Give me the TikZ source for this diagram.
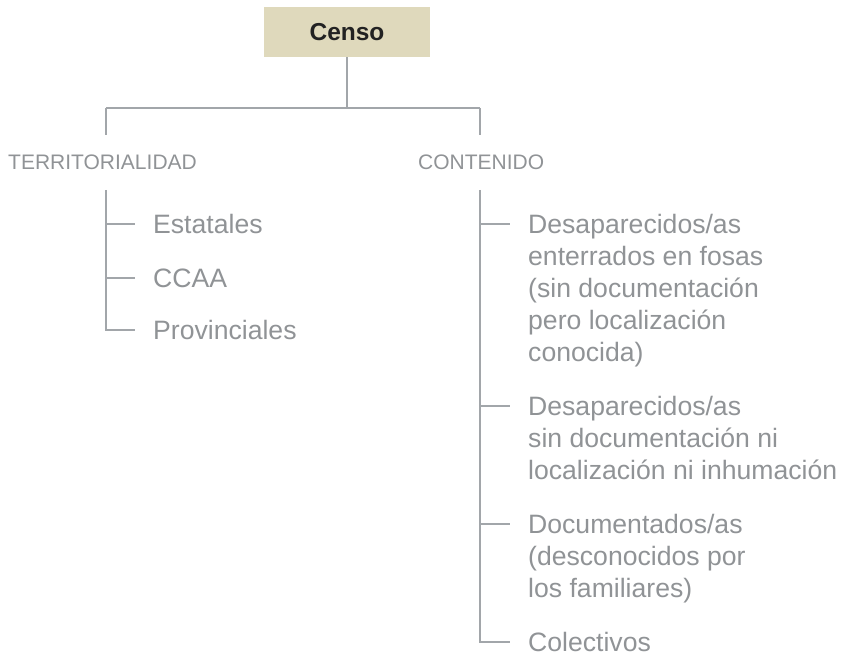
\documentclass[tikz,border=0pt]{standalone}
\usepackage{fontspec}
\setmainfont{Liberation Sans}
\definecolor{boxfill}{HTML}{DFD9BC}
\definecolor{linegray}{HTML}{A2A6AA}
\definecolor{textgray}{HTML}{909396}
\definecolor{titledark}{HTML}{222222}
\tikzset{
  titlebox/.style={fill=boxfill, draw=none, minimum width=166pt, minimum height=50pt, inner sep=0pt,
    font=\fontsize{24.5}{28}\selectfont\bfseries, text=titledark},
  cat/.style={inner sep=0pt, font=\fontsize{21}{24}\selectfont, text=textgray},
  item/.style={inner sep=0pt, font=\fontsize{26.6}{32}\selectfont, text=textgray, align=left},
  tree/.style={draw=linegray, line width=1.1pt},
}
\begin{document}
\begin{tikzpicture}[x=1pt,y=-1pt]
\useasboundingbox (0,0) rectangle (844,658);
% title
\node[titlebox] (censo) at (347,32) {Censo};
\coordinate (hub) at (347,108);
\coordinate (tl) at (106,108);
\coordinate (tr) at (480,108);
\coordinate (tld) at (106,135);
\coordinate (trd) at (480,135);
\draw[tree] (censo.south) -- (hub);
\draw[tree] (tl) -- (tr);
\draw[tree] (tl) -- (tld);
\draw[tree] (tr) -- (trd);
% categories
\node[cat, anchor=base west] (terr) at (8,169.5) {TERRITORIALIDAD};
\node[cat, anchor=base west] (cont) at (418,169.5) {CONTENIDO};
% left items
\node[item, anchor=base west] (est) at (153,233.5) {Estatales};
\node[item, anchor=base west] (ccaa) at (153,287.5) {CCAA};
\node[item, anchor=base west] (prov) at (153,339.5) {Provinciales};
\coordinate (ls) at (106,190);
\coordinate (l1) at (106,224);
\coordinate (l2) at (106,278);
\coordinate (l3) at (106,330);
\draw[tree] (ls) -- (l3) -- ++(29,0);
\draw[tree] (l1) -- ++(29,0);
\draw[tree] (l2) -- ++(29,0);
% right items
\node[item, anchor=north west] (des1) at (528,214.5) {Desaparecidos/as\\enterrados en fosas\\(sin documentación\\pero localización\\conocida)};
\node[item, anchor=north west] (des2) at (528,396.5) {Desaparecidos/as\\sin documentación ni\\localización ni inhumación};
\node[item, anchor=north west] (doc) at (528,514.5) {Documentados/as\\(desconocidos por\\los familiares)};
\node[item, anchor=base west] (col) at (528,651.5) {Colectivos};
\coordinate (rs) at (480,190);
\coordinate (r1) at (480,224);
\coordinate (r2) at (480,406);
\coordinate (r3) at (480,524);
\coordinate (r4) at (480,642);
\draw[tree] (rs) -- (r4) -- ++(30,0);
\draw[tree] (r1) -- ++(30,0);
\draw[tree] (r2) -- ++(30,0);
\draw[tree] (r3) -- ++(30,0);
\end{tikzpicture}
\end{document}
